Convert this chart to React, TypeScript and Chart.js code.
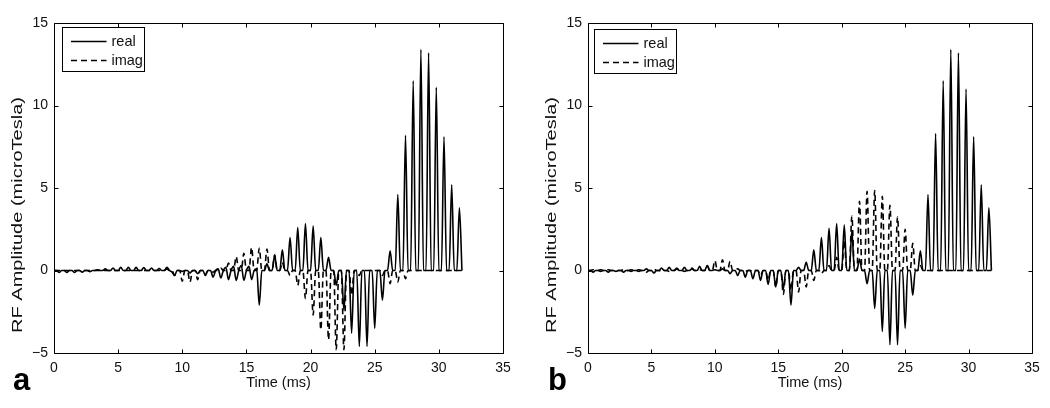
import React, { useEffect, useRef } from "react";
import { Chart, registerables } from "chart.js";

Chart.register(...registerables);

// Sampling interval of the waveform vertices (ms)
const SAMPLE_MS = 0.2;

// Axis ranges / ticks
const X_MIN = 0;
const X_MAX = 35;
const X_STEP = 5;
const Y_MIN = -5;
const Y_MAX = 15;
const Y_STEP = 5;

const SERIES_LABELS = ["real", "imag"];
const PANEL_LETTERS = ["a", "b"];
const X_TITLE = "Time (ms)";
const Y_TITLE = "RF Amplitude (microTesla)";

// Panel a, real part (microTesla), one value per 0.2 ms sample
const realA = [
  0, 0,
  -0.12, 0, 0, -0.12, 0, 0, -0.12, 0, 0, -0.1, 0, 0, -0.08, 0, 0,
  0.05, 0, 0, 0.1, 0, 0, 0.15, 0, 0, 0.2, 0, 0, 0.2, 0, 0,
  0.2, 0, 0, 0.18, 0, 0, 0.15, 0, 0, 0.12, 0, 0, 0.2, 0, -0.1,
  -0.3, 0, 0, -0.05, 0, 0, -0.15, 0, 0, -0.2, 0, 0, -0.3, 0, 0,
  -0.4, 0, 0.1, -0.45, 0, 0.2, -0.55, 0, 0.25, -0.6, 0, 0.3, -0.6, 0, 0.25,
  -0.55, 0, 0.1, -2.1, 0, 0, 0.4, 0, 0, 0.9, 0, 0, 1.25, 0, 0,
  2.0, 0, 0, 2.6, 0, 0, 2.85, 0, 0, 2.7, 0, 0, 2.0, 0, 0,
  0.8, 0, 0, -0.9, 0, 0, -2.4, 0, 0, -3.8, 0, 0, -4.6, 0, 0,
  -4.6, 0, 0, -3.5, 0, 0, -1.8, 0, 0, 1.2, 0, 0, 4.6, 0, 0,
  8.2, 0, 0, 11.5, 0, 0, 13.4, 0, 0, 13.2, 0, 0, 11.1, 0, 0,
  8.1, 0, 0, 5.2, 0, 0, 3.8, 0,
];

// Panel a, imaginary part
const imagA = [
  0, 0,
  0, 0, 0, 0, 0, 0, 0, 0, 0, 0, 0, 0, 0, 0, 0,
  0, 0, 0, 0, 0, 0, 0, 0, 0, 0, 0, 0, 0, 0, 0,
  0, 0, 0, 0, 0, 0, 0, 0, 0, 0, 0, 0, 0.1, 0, 0,
  -0.3, 0, 0, -0.65, 0, 0, -0.7, 0, 0, -0.55, 0, 0, -0.25, 0, 0,
  -0.1, 0, 0, 0.15, 0, 0, 0.45, 0, 0, 0.85, 0, 0, 1.05, 0, 0,
  1.4, 0, 0, 1.35, 0, 0, 1.3, 0, 0, 0.95, 0, 0, 0.5, 0, 0,
  -0.3, 0, 0, -0.9, 0, 0, -1.7, 0, 0, -2.7, 0, 0, -3.6, 0, 0,
  -4.2, 0, 0, -4.8, 0, 0, -4.8, 0, 0, -1.5, 0, 0, -0.3, 0, 0,
  0, 0, 0, 0, 0, 0, -0.3, 0, 0, -0.8, 0, 0, -0.7, 0, 0,
  -0.5, 0, 0, 0, 0, 0, 0, 0, 0, 0, 0, 0, 0, 0, 0,
  0, 0, 0, 0, 0, 0, 0, 0,
];

// Panel b, real part
const realB = [
  0, 0,
  -0.1, 0, 0, 0.05, 0, 0, -0.1, 0, 0, -0.05, 0, 0, -0.1, 0, 0,
  0.05, 0, 0, -0.05, 0, 0, 0.1, 0, 0, -0.15, 0, 0, 0.15, 0, 0,
  0.2, 0, 0, 0.15, 0, 0, 0.2, 0, 0, 0.1, 0, 0, 0.25, 0, 0,
  0.3, 0, 0, 0.05, 0, 0, 0.1, 0, 0, -0.2, 0, 0, -0.3, 0, 0,
  -0.4, 0, 0, -0.5, 0, 0, -0.6, 0, 0, -0.85, 0, 0, -1.0, 0, 0,
  -1.1, 0, 0, -2.1, 0, 0, 0.2, 0, 0, 0.5, 0, 0, 1.25, 0, 0,
  2.0, 0, 0, 2.55, 0, 0, 2.85, 0, 0, 2.75, 0, 0, 2.4, 0, 0,
  0.7, 0, 0, -0.8, 0, 0, -2.3, 0, 0, -3.7, 0, 0, -4.5, 0, 0,
  -4.5, 0, 0, -3.5, 0, 0, -1.5, 0, 0, 1.2, 0, 0, 4.6, 0, 0,
  8.3, 0, 0, 11.5, 0, 0, 13.4, 0, 0, 13.2, 0, 0, 11.0, 0, 0,
  8.1, 0, 0, 5.2, 0, 0, 3.8, 0,
];

// Panel b, imaginary part
const imagB = [
  0, 0,
  0.05, 0, 0, -0.05, 0, 0, 0.05, 0, 0, 0, 0, 0, 0.05, 0, 0,
  -0.05, 0, 0, 0.05, 0, 0, -0.1, 0, 0, 0.1, 0, 0, -0.1, 0, 0,
  -0.05, 0, 0, 0.1, 0, 0, -0.05, 0, 0, 0.15, 0, 0, 0.05, 0, 0,
  0.3, 0, 0, 0.6, 0, 0, 0.65, 0, 0, 0.55, 0, 0, 0.1, 0, 0,
  -0.05, 0, 0, -0.1, 0, 0, -0.3, 0, 0, -0.6, 0, 0, -1.0, 0, 0,
  -1.45, 0, 0, -1.2, 0, 0, -1.3, 0, 0, -1.0, 0, 0, -0.6, 0, 0,
  -0.2, 0, 0, 0.3, 0, 0, 0.8, 0, 0, 1.8, 0, 0, 3.3, 0, 0,
  4.2, 0, 0, 4.8, 0, 0, 4.85, 0, 0, 4.5, 0, 0, 3.95, 0, 0,
  3.25, 0, 0, 2.5, 0, 0, 1.65, 0, 0, 0.3, 0, 0, 0, 0, 0,
  0, 0, 0, 0, 0, 0, 0, 0, 0, 0, 0, 0, 0, 0, 0,
  0, 0, 0, 0, 0, 0, 0, 0,
];

const FONT = "'Liberation Sans', Arial, Helvetica, sans-serif";
const INK = "#111";

type PanelLayout = {
  yAxisWidth: number;
  padRight: number;
  padTop: number;
  xAxisHeight: number;
  yTitleX: number;
  yTitleY: number;
  yTitleLen: number;
  legendDx: number;
  legendDy: number;
  letterX: number;
};

const LAYOUTS: PanelLayout[] = [
  { yAxisWidth: 54, padRight: 22, padTop: 23, xAxisHeight: 55, yTitleX: 18, yTitleY: 215, yTitleLen: 236, legendDx: 8, legendDy: 4, letterX: 13 },
  { yAxisWidth: 63, padRight: 18, padTop: 23, xAxisHeight: 55, yTitleX: 27.5, yTitleY: 215, yTitleLen: 236, legendDx: 6, legendDy: 6, letterX: 23 },
];

function toPoints(values: number[]) {
  return values.map((v, i) => ({ x: +(i * SAMPLE_MS).toFixed(2), y: v }));
}

function makeFramePlugin(layout: PanelLayout, letter: string) {
  return {
    id: "matlabFrame",
    afterDraw(chart: any) {
      const { ctx, chartArea, scales } = chart;
      const { left, right, top, bottom } = chartArea;
      const xs = scales.x;
      const ys = scales.y;
      const TL = 4;
      ctx.save();
      ctx.strokeStyle = "#000";
      ctx.lineWidth = 1;
      ctx.setLineDash([]);
      ctx.beginPath();
      const L = Math.round(left) + 0.5;
      const R = Math.round(right) + 0.5;
      const T = Math.round(top) + 0.5;
      const B = Math.round(bottom) + 0.5;
      ctx.rect(L, T, R - L, B - T);
      xs.ticks.forEach((t: any) => {
        const px = Math.round(xs.getPixelForValue(t.value)) + 0.5;
        ctx.moveTo(px, B);
        ctx.lineTo(px, B - TL);
        ctx.moveTo(px, T);
        ctx.lineTo(px, T + TL);
      });
      ys.ticks.forEach((t: any) => {
        const py = Math.round(ys.getPixelForValue(t.value)) + 0.5;
        ctx.moveTo(L, py);
        ctx.lineTo(L + TL, py);
        ctx.moveTo(R, py);
        ctx.lineTo(R - TL, py);
      });
      ctx.stroke();

      // legend box
      const bx = Math.round(left + layout.legendDx) + 0.5;
      const by = Math.round(top + layout.legendDy) + 0.5;
      const bw = 82;
      const bh = 44;
      ctx.fillStyle = "#fff";
      ctx.fillRect(bx, by, bw, bh);
      ctx.strokeRect(bx, by, bw, bh);
      const rows = [by + 13.5, by + 32.5];
      chart.data.datasets.forEach((ds: any, i: number) => {
        const ry = Math.round(rows[i]) + 0.5;
        ctx.beginPath();
        ctx.lineWidth = 1.3;
        ctx.setLineDash(ds.borderDash || []);
        ctx.moveTo(bx + 8.5, ry);
        ctx.lineTo(bx + 44, ry);
        ctx.stroke();
        ctx.setLineDash([]);
        ctx.fillStyle = INK;
        ctx.font = `14.5px ${FONT}`;
        ctx.textBaseline = "middle";
        ctx.textAlign = "left";
        ctx.fillText(ds.label, bx + 49, ry);
      });

      // y-axis title (stretched along its length like the reference)
      ctx.font = `14px ${FONT}`;
      const w = ctx.measureText(Y_TITLE).width;
      ctx.translate(layout.yTitleX, layout.yTitleY);
      ctx.rotate(-Math.PI / 2);
      ctx.scale(layout.yTitleLen / w, 1);
      ctx.fillStyle = INK;
      ctx.textAlign = "center";
      ctx.textBaseline = "middle";
      ctx.fillText(Y_TITLE, 0, 0);
      ctx.setTransform(1, 0, 0, 1, 0, 0);

      // panel letter
      ctx.fillStyle = "#000";
      ctx.font = `bold 31px ${FONT}`;
      ctx.textBaseline = "alphabetic";
      ctx.textAlign = "left";
      ctx.fillText(letter, layout.letterX, 390);
      ctx.restore();
    },
  };
}

function Panel({ real, imag, layout, letter }: { real: number[]; imag: number[]; layout: PanelLayout; letter: string }) {
  const ref = useRef<HTMLCanvasElement | null>(null);
  useEffect(() => {
    if (!ref.current) return;
    const chart = new Chart(ref.current, {
      type: "line",
      data: {
        datasets: [
          {
            label: SERIES_LABELS[0],
            data: toPoints(real),
            borderColor: "#000",
            borderWidth: 1.6,
            pointRadius: 0,
            cubicInterpolationMode: "monotone",
            fill: false,
          },
          {
            label: SERIES_LABELS[1],
            data: toPoints(imag),
            borderColor: "#000",
            borderWidth: 1.6,
            borderDash: [6, 4],
            pointRadius: 0,
            cubicInterpolationMode: "monotone",
            fill: false,
          },
        ],
      },
      options: {
        responsive: false,
        animation: false,
        events: [],
        layout: { padding: { top: layout.padTop, right: layout.padRight, left: 0, bottom: 0 } },
        plugins: { legend: { display: false }, tooltip: { enabled: false } },
        scales: {
          x: {
            type: "linear",
            min: X_MIN,
            max: X_MAX,
            grid: { display: false, drawTicks: false },
            border: { display: false },
            ticks: { stepSize: X_STEP, padding: 7, color: INK, font: { family: FONT, size: 14 }, maxRotation: 0 },
            title: { display: true, text: X_TITLE, color: INK, font: { family: FONT, size: 14.5 }, padding: { top: 0, bottom: 16 } },
            afterFit: (s: any) => {
              s.height = layout.xAxisHeight;
            },
          },
          y: {
            type: "linear",
            min: Y_MIN,
            max: Y_MAX,
            grid: { display: false, drawTicks: false },
            border: { display: false },
            ticks: {
              stepSize: Y_STEP,
              padding: 6,
              color: INK,
              font: { family: FONT, size: 14 },
              callback: (v: any) => String(v).replace("-", "\u2212"),
            },
            title: { display: false },
            afterFit: (s: any) => {
              s.width = layout.yAxisWidth;
            },
          },
        },
      },
      plugins: [makeFramePlugin(layout, letter)],
    } as any);
    return () => chart.destroy();
  }, [real, imag, layout, letter]);
  return <canvas ref={ref} width={525} height={408} style={{ display: "block", width: 525, height: 408 }} />;
}

export default function App() {
  return (
    <div style={{ position: "fixed", left: 0, top: 0, width: 1050, height: 408, background: "#fff", display: "flex" }}>
      <Panel real={realA} imag={imagA} layout={LAYOUTS[0]} letter={PANEL_LETTERS[0]} />
      <Panel real={realB} imag={imagB} layout={LAYOUTS[1]} letter={PANEL_LETTERS[1]} />
    </div>
  );
}
